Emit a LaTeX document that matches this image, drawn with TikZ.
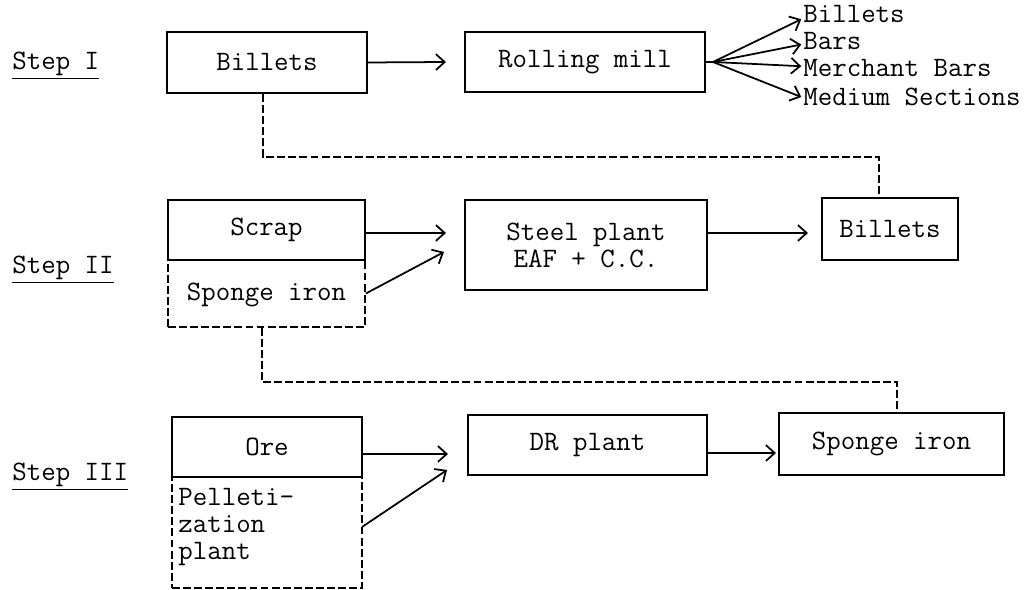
\documentclass[tikz,border=0pt]{standalone}
\usepackage{fontspec}
\usetikzlibrary{arrows.meta}
\begin{document}
\begin{tikzpicture}[x=0.02cm,y=-0.02cm,
  font=\ttfamily\fontsize{16}{15.4}\selectfont,
  box/.style={draw, line width=1pt, inner sep=0pt, align=center},
  dbox/.style={draw, line width=1pt, inner sep=0pt, dash pattern=on 4.5pt off 1.8pt},
  arr/.style={line width=1pt, -{Straight Barb[length=5pt,width=9pt]}},
  dsh/.style={line width=1pt, dash pattern=on 4.5pt off 1.8pt},
  lbl/.style={inner sep=0pt, anchor=base west}]
\useasboundingbox[fill=white] (0,0) rectangle (1035,590);

% step labels
\node[lbl] (s1) at (12,70) {\underline{Step I}};
\node[lbl] (s2) at (12,274) {\underline{Step II}};
\node[lbl] (s3) at (12,481) {\underline{Step III}};

% Step I
\node[box, minimum width=4cm, minimum height=1.22cm] (billets1) at (267,62.5) {Billets};
\node[box, minimum width=4.8cm, minimum height=1.2cm] (rolling) at (585,62) {Rolling mill};
\node[inner sep=0pt, anchor=west] (o1) at (803,14) {Billets};
\node[inner sep=0pt, anchor=west] (o2) at (803,41) {Bars};
\node[inner sep=0pt, anchor=west] (o3) at (803,68) {Merchant Bars};
\node[inner sep=0pt, anchor=west] (o4) at (803,97) {Medium Sections};

% Step II
\node[dbox, minimum width=3.94cm, minimum height=1.34cm] (sponge2) at (266.5,293.5) {};
\node[inner sep=0pt] (sponge2txt) at (266.5,295) {Sponge iron};
\node[box, minimum width=3.94cm, minimum height=1.2cm] (scrap) at (266.5,230) {Scrap};
\node[box, minimum width=4.84cm, minimum height=1.8cm] (steel) at (586,245) {Steel plant\\EAF + C.C.};
\node[box, minimum width=2.72cm, minimum height=1.24cm] (billets2) at (890,229) {Billets};

% Step III
\node[dbox, minimum width=3.8cm, minimum height=2.22cm] (pellet) at (267,532.5) {};
\node[inner sep=0pt, anchor=west, align=left] (pellettxt) at (178,527) {Pelleti-\\zation\\plant};
\node[box, minimum width=3.8cm, minimum height=1.2cm] (ore) at (267,447) {Ore};
\node[box, minimum width=4.78cm, minimum height=1.2cm] (dr) at (587.5,445) {DR plant};
\node[box, minimum width=4.5cm, minimum height=1.24cm] (sponge3) at (891.5,444) {Sponge iron};

% coordinates
\coordinate (fan) at (713,62);
\coordinate (t1) at (446,62);
\coordinate (a2) at (365,233);
\coordinate (t2) at (446,233);
\coordinate (t3) at (444,252);
\coordinate (a4) at (707,233);
\coordinate (t4) at (808,233);
\coordinate (a5) at (362,454);
\coordinate (t5) at (448,454);
\coordinate (a6) at (362,527);
\coordinate (t6) at (447,470);
\coordinate (a7) at (707,453);
\coordinate (t7) at (776,453);
\coordinate (c1a) at (263,157);
\coordinate (c1b) at (879,157);
\coordinate (c2a) at (262,382);
\coordinate (c2b) at (897,382);

% arrows
\draw[arr] (billets1.east) -- (t1);
\draw[line width=1pt] (rolling.east) -- (fan);
\draw[arr] (fan) -- ([xshift=-1pt,yshift=-3pt]o1.west);
\draw[arr] (fan) -- ([xshift=-1pt,yshift=-2pt]o2.west);
\draw[arr] (fan) -- ([xshift=-1pt,yshift=1pt]o3.west);
\draw[arr] (fan) -- ([xshift=-1pt]o4.west);
\draw[arr] (a2) -- (t2);
\draw[arr] (sponge2.east) -- (t3);
\draw[arr] (a4) -- (t4);
\draw[arr] (a5) -- (t5);
\draw[arr] (a6) -- (t6);
\draw[arr] (a7) -- (t7);

% dashed links
\draw[dsh] (billets1.south -| c1a) -- (c1a) -- (c1b) -- (c1b |- billets2.north);
\draw[dsh] (sponge2.south -| c2a) -- (c2a) -- (c2b) -- (c2b |- sponge3.north);
\end{tikzpicture}
\end{document}
